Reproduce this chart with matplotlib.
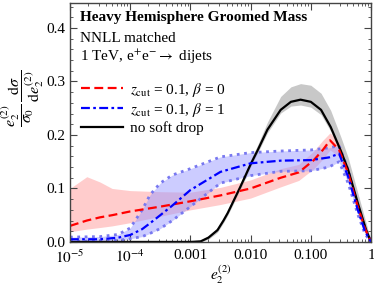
import numpy as np
import matplotlib
matplotlib.use('Agg')
import matplotlib.pyplot as plt
from matplotlib.lines import Line2D
from matplotlib.ticker import FixedLocator, FixedFormatter, MultipleLocator, LogLocator, NullFormatter

plt.rcParams['font.family'] = ['Liberation Serif', 'DejaVu Serif']
plt.rcParams['mathtext.fontset'] = 'stix'

# log10(e2) grid and values
# z_cut = 0.1, beta = 0
red_lx = [-5.0, -4.72, -4.5, -4.3, -4.0, -3.5, -3.0, -2.5, -2.0, -1.5, -1.2, -0.95, -0.8, -0.68, -0.53, -0.38, -0.22, -0.1, 0.0]
red_c = [0.030, 0.040, 0.046, 0.050, 0.057, 0.066, 0.076, 0.087, 0.100, 0.120, 0.130, 0.153, 0.172, 0.190, 0.172, 0.129, 0.066, 0.025, 0.0]
red_lo = [0.019, 0.024, 0.027, 0.030, 0.036, 0.048, 0.060, 0.070, 0.082, 0.103, 0.115, 0.137, 0.155, 0.172, 0.160, 0.118, 0.058, 0.020, 0.0]
red_hi = [0.100, 0.122, 0.112, 0.100, 0.096, 0.094, 0.093, 0.102, 0.116, 0.137, 0.145, 0.170, 0.190, 0.204, 0.186, 0.140, 0.074, 0.030, 0.0]

# z_cut = 0.1, beta = 1
blue_lx = [-5.0, -4.5, -4.2, -4.0, -3.8, -3.67, -3.5, -3.3, -3.0, -2.5, -2.0, -1.5, -1.0, -0.7, -0.53, -0.38, -0.22, -0.1, 0.0]
blue_c = [0.005, 0.005, 0.008, 0.013, 0.024, 0.035, 0.050, 0.068, 0.097, 0.131, 0.147, 0.152, 0.153, 0.158, 0.165, 0.122, 0.060, 0.020, 0.0]
blue_lo = [0.001, 0.002, 0.003, 0.006, 0.010, 0.016, 0.025, 0.040, 0.066, 0.110, 0.124, 0.132, 0.133, 0.140, 0.150, 0.110, 0.052, 0.015, 0.0]
blue_hi = [0.009, 0.010, 0.014, 0.026, 0.060, 0.088, 0.110, 0.125, 0.137, 0.159, 0.167, 0.170, 0.172, 0.176, 0.180, 0.135, 0.068, 0.026, 0.0]

# no soft drop
blk_lx = [-5.0, -3.0, -2.83, -2.7, -2.55, -2.45, -2.38, -2.17, -2.0, -1.88, -1.72, -1.5, -1.33, -1.17, -1.0, -0.83, -0.67, -0.5, -0.38, -0.22, -0.08, 0.0]
blk_c = [0.0, 0.0, 0.001, 0.008, 0.022, 0.040, 0.054, 0.103, 0.145, 0.172, 0.210, 0.247, 0.262, 0.266, 0.262, 0.247, 0.215, 0.170, 0.135, 0.073, 0.022, 0.0]
blk_lo = [0.0, 0.0, 0.0, 0.005, 0.018, 0.036, 0.050, 0.098, 0.140, 0.167, 0.204, 0.241, 0.254, 0.256, 0.252, 0.238, 0.207, 0.162, 0.128, 0.068, 0.018, 0.0]
blk_hi = [0.0, 0.002, 0.004, 0.012, 0.027, 0.045, 0.059, 0.109, 0.153, 0.182, 0.224, 0.272, 0.290, 0.296, 0.293, 0.278, 0.246, 0.196, 0.158, 0.092, 0.035, 0.0]

xticks = [1e-5, 1e-4, 1e-3, 1e-2, 1e-1, 1]
xticklabels = [r'$10^{-5}$', r'$10^{-4}$', '0.001', '0.010', '0.100', '1']
yticks = [0.0, 0.1, 0.2, 0.3, 0.4]
yticklabels = ['0.0', '0.1', '0.2', '0.3', '0.4']

rx = 10 ** np.array(red_lx)
bx = 10 ** np.array(blue_lx)
kx = 10 ** np.array(blk_lx)

fig = plt.figure(figsize=(3.74, 2.87), dpi=100)
ax = fig.add_axes([0.187, 0.157, 0.805, 0.833])

ax.fill_between(kx, blk_lo, blk_hi, color='#c8c8c8', lw=0)
ax.fill_between(rx, red_lo, red_hi, color='#ff9a9a', alpha=0.5, lw=0)
ax.fill_between(bx, blue_lo, blue_hi, color='#9a9aff', alpha=0.5, lw=0)
ax.plot(bx, blue_lo, ':', color='#7878f0', lw=2.0)
ax.plot(bx, blue_hi, ':', color='#7878f0', lw=2.0)
ax.plot(kx, blk_c, '-', color='black', lw=1.6)
ax.plot(rx, red_c, '--', color='#ff0000', lw=1.6, dashes=(4, 2))
ax.plot(bx, blue_c, '-.', color='#0000ff', lw=1.6, dashes=(4, 1.5, 1.2, 1.5))

ax.set_xscale('log')
ax.set_xlim(1e-5, 1)
ax.set_ylim(0, 0.447)
ax.xaxis.set_major_locator(FixedLocator(xticks))
ax.xaxis.set_major_formatter(FixedFormatter(xticklabels))
ax.xaxis.set_minor_locator(LogLocator(base=10, subs=np.arange(2, 10)))
ax.xaxis.set_minor_formatter(NullFormatter())
ax.yaxis.set_major_locator(FixedLocator(yticks))
ax.yaxis.set_major_formatter(FixedFormatter(yticklabels))
ax.yaxis.set_minor_locator(MultipleLocator(0.02))
ax.tick_params(which='both', direction='in', top=True, right=True, labelsize=11, color='#444444')
ax.tick_params(axis='y', pad=3)
ax.tick_params(axis='x', pad=5)
ax.tick_params(which='major', length=5, width=0.8)
ax.tick_params(which='minor', length=2.5, width=0.6)
for s in ax.spines.values():
    s.set_color('#444444')
    s.set_linewidth(1.0)

ax.set_xlabel(r'$e_2^{(2)}$', fontsize=11)
ax.xaxis.set_label_coords(0.5, -0.088, transform=ax.transAxes)
ax.xaxis.label.set_va('top')
ax.set_ylabel(r'$\dfrac{e_2^{(2)}}{\sigma_0}\,\dfrac{\mathrm{d}\sigma}{\mathrm{d}e_2^{(2)}}$', fontsize=11.5)
ax.yaxis.set_label_coords(-0.078, 0.6)

ax.text(0.033, 0.925, 'Heavy Hemisphere Groomed Mass', transform=ax.transAxes, fontsize=11, fontweight='bold')
ax.text(0.033, 0.835, 'NNLL matched', transform=ax.transAxes, fontsize=11)
ax.text(0.033, 0.755, r'1 TeV, e$^{+}$e$^{-}$$\rightarrow$ dijets', transform=ax.transAxes, fontsize=11)

handles = [
    Line2D([], [], color='#ff0000', ls='--', lw=1.6, dashes=(4, 2)),
    Line2D([], [], color='#0000ff', ls='-.', lw=1.6, dashes=(4, 1.5, 1.2, 1.5)),
    Line2D([], [], color='black', lw=1.6),
]
labels = [r'$z_{\rm cut}$ = 0.1, $\beta$ = 0', r'$z_{\rm cut}$ = 0.1, $\beta$ = 1', 'no soft drop']
ax.legend(handles, labels, loc='upper left', bbox_to_anchor=(0.0, 0.72), frameon=False,
          fontsize=11, handlelength=2.8, handletextpad=0.4, labelspacing=0.15, borderaxespad=0.3)

fig.savefig('out.png', dpi=100)
